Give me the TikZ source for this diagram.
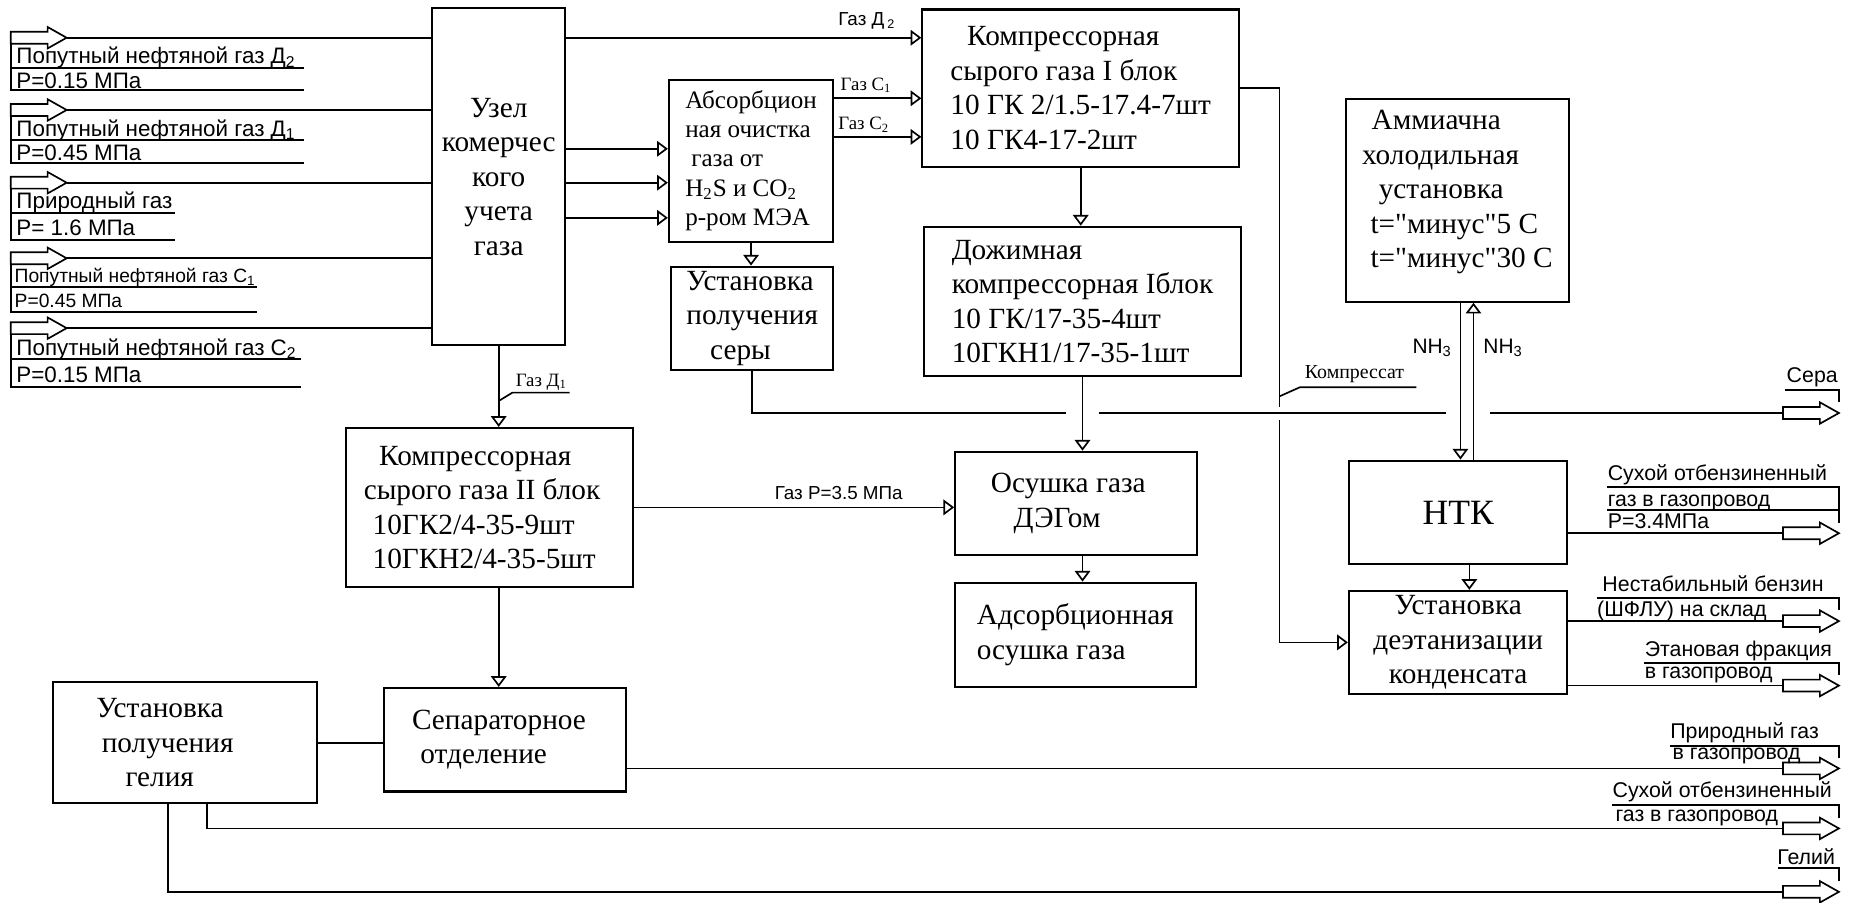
\documentclass[tikz,border=0pt]{standalone}
\usepackage{fontspec}
\setmainfont{Liberation Serif}
\setsansfont{Liberation Sans}
\usepackage{tikz}
\usetikzlibrary{arrows.meta,calc}
\tikzset{
    unit-box/.style = {draw, line width=1pt, rectangle, inner sep=0pt, align=left, font=\fontsize{14}{16.5}\selectfont},
    flow-line/.style = {line width=0.8pt, -{Triangle[open, length=1.8mm, width=2.6mm]}},
    pipe-line/.style = {line width=0.8pt},
    stream-label/.style = {font=\sffamily\fontsize{10.7}{12.5}\selectfont, inner sep=0pt, anchor=base west},
    out-label/.style = {stream-label, font=\sffamily\fontsize{10.2}{12}\selectfont},
    gas-label/.style = {font=\fontsize{9}{10}\selectfont, inner sep=0pt, anchor=base west},
    big-arrow/.pic = {\draw[pipe-line] (0,-5) -- (31,-5) -- (31,-9) -- (47,0) -- (31,9) -- (31,5) -- (0,5) -- cycle;},
}

\begin{document}
\begin{tikzpicture}[x=0.2mm, y=-0.2mm]
\useasboundingbox (0,0) rectangle (1556,757.9);

\node[unit-box, align=center, minimum width=22.4mm, minimum height=56.6mm] (uzel) at (419,148.5) {Узел\\комерчес\\кого\\учета\\газа};
\node[unit-box, minimum width=27.6mm, minimum height=27.2mm, font=\fontsize{12}{13.9}\selectfont] (absorb) at (631,135) {Абсорбцион\\ная очистка\\\hspace*{1mm}газа от\\H\textsubscript{2}S и CO\textsubscript{2}\\р-ром МЭА};
\node[unit-box, minimum width=53.2mm, minimum height=26.4mm] (komp1) at (908,74) {\hspace*{2.8mm}Компрессорная\\сырого газа I блок\\10 ГК 2/1.5-17.4-7шт\\10 ГК4-17-2шт};
\node[unit-box, minimum width=27.2mm, minimum height=17.4mm] (sera) at (632,267.5) {Установка\\получения\\\hspace*{4mm}серы};
\node[unit-box, minimum width=53.4mm, minimum height=25.1mm] (dozhim) at (909.5,253.25) {Дожимная\\компрессорная Iблок\\10 ГК/17-35-4шт\\10ГКН1/17-35-1шт};
\node[unit-box, minimum width=37.4mm, minimum height=34mm] (amm) at (1224.5,168.5) {\hspace*{1.6mm}Аммиачна\\холодильная\\\hspace*{2.8mm}установка\\\hspace*{1.4mm}t=\textquotedbl минус\textquotedbl 5 С\\\hspace*{1.4mm}t=\textquotedbl минус\textquotedbl 30 С\\[-2mm]\mbox{}};
\node[unit-box, minimum width=48.2mm, minimum height=26.7mm] (komp2) at (411,426.3) {\hspace*{2.6mm}Компрессорная\\сырого газа II блок\rule{2.4mm}{0pt}\\\hspace*{1.5mm}10ГК2/4-35-9шт\\\hspace*{1.5mm}10ГКН2/4-35-5шт};
\node[unit-box, minimum width=40.7mm, minimum height=17.3mm] (osushka) at (904.3,422.8) {Осушка газа\rule{2.7mm}{0pt}\\\hspace*{3.8mm}ДЭГом};
\node[unit-box, align=center, minimum width=36.6mm, minimum height=17.4mm, font=\fontsize{17}{20}\selectfont] (ntk) at (1225.2,430.5) {НТК};
\node[unit-box, minimum width=40.6mm, minimum height=17.5mm] (adsorb) at (903.5,533.3) {Адсорбционная\\осушка газа};
\node[unit-box, align=center, minimum width=36.7mm, minimum height=17.3mm] (deethan) at (1225.1,539.7) {Установка\\деэтанизации\\конденсата};
\node[unit-box, minimum width=40.7mm, minimum height=17.4mm] (separ) at (424.25,621.5) {Сепараторное\rule{2mm}{0pt}\\\hspace*{1.4mm}отделение};
\node[unit-box, minimum width=44.3mm, minimum height=20.4mm] (helium) at (155.35,624) {Установка\\\hspace*{0.9mm}получения\rule{6.7mm}{0pt}\\\hspace*{4.9mm}гелия};

\coordinate (in-d2) at (56,31.7);
\coordinate (in-d1) at (56,92.4);
\coordinate (in-pg) at (56,153.5);
\coordinate (in-c1) at (56,217);
\coordinate (in-c2) at (56,275.7);
\pic at ($(in-d2)+(-47,0)$) {big-arrow};
\pic at ($(in-d1)+(-47,0)$) {big-arrow};
\pic at ($(in-pg)+(-47,0)$) {big-arrow};
\pic at ($(in-c1)+(-47,0)$) {big-arrow};
\pic at ($(in-c2)+(-47,0)$) {big-arrow};
\draw[pipe-line] (in-d2) -- (in-d2 -| uzel.west);
\draw[pipe-line] (in-d1) -- (in-d1 -| uzel.west);
\draw[pipe-line] (in-pg) -- (in-pg -| uzel.west);
\draw[pipe-line] (in-c1) -- (in-c1 -| uzel.west);
\draw[pipe-line] (in-c2) -- (in-c2 -| uzel.west);

\draw[pipe-line] (9,36.7) |- (255,75.6);
\draw[pipe-line] (9,57.4) -- (255,57.4);
\node[stream-label] (tag-d2) at (13.5,53.5) {Попутный нефтяной газ Д\textsubscript{2}};
\node[stream-label] (tag-d2p) at (13.5,74) {Р=0.15 МПа};
\draw[pipe-line] (9,97.4) |- (255,137);
\draw[pipe-line] (9,117.6) -- (255,117.6);
\node[stream-label] (tag-d1) at (13.5,114.5) {Попутный нефтяной газ Д\textsubscript{1}};
\node[stream-label] (tag-d1p) at (13.5,135) {Р=0.45 МПа};
\draw[pipe-line] (9,158.5) |- (147,201.7);
\draw[pipe-line] (9,179) -- (147,179);
\node[stream-label] (tag-pg) at (13.5,175.5) {Природный газ};
\node[stream-label] (tag-pgp) at (13.5,198) {Р= 1.6 МПа};
\draw[pipe-line] (9,222) |- (216,262);
\draw[pipe-line] (9,241) -- (216,241);
\node[stream-label, font=\sffamily\fontsize{9.2}{11}\selectfont] (tag-c1) at (12,237.5) {Попутный нефтяной газ С\textsubscript{1}};
\node[stream-label, font=\sffamily\fontsize{9.2}{11}\selectfont] (tag-c1p) at (12,258.5) {Р=0.45 МПа};
\draw[pipe-line] (9,280.7) |- (252.6,325);
\draw[pipe-line] (9,301.7) -- (252.6,301.7);
\node[stream-label] (tag-c2) at (13.5,298.5) {Попутный нефтяной газ С\textsubscript{2}};
\node[stream-label] (tag-c2p) at (13.5,321.5) {Р=0.15 МПа};

\draw[flow-line] (uzel.east |- in-d2) -- (komp1.west |- in-d2);
\node[gas-label, font=\sffamily\fontsize{9}{10}\selectfont] (tag-gd2) at (704,21.8) {Газ Д\,\textsubscript{2}};

\coordinate (ab-in1) at ($(absorb.west)+(0,-10)$);
\coordinate (ab-in2) at ($(absorb.west)+(0,18.5)$);
\coordinate (ab-in3) at ($(absorb.west)+(0,48)$);
\draw[flow-line] (uzel.east |- ab-in1) -- (ab-in1);
\draw[flow-line] (uzel.east |- ab-in2) -- (ab-in2);
\draw[flow-line] (uzel.east |- ab-in3) -- (ab-in3);

\coordinate (ab-out1) at ($(absorb.east)+(0,-52.4)$);
\coordinate (ab-out2) at ($(absorb.east)+(0,-20)$);
\draw[flow-line] (ab-out1) -- (komp1.west |- ab-out1);
\draw[flow-line] (ab-out2) -- (komp1.west |- ab-out2);
\node[gas-label] (tag-gc1) at (706,76.2) {Газ С\textsubscript{1}};
\node[gas-label] (tag-gc2) at (704,109.2) {Газ С\textsubscript{2}};

\draw[flow-line] (absorb.south) -- (absorb.south |- sera.north);
\draw[flow-line] (komp1.south) -- (komp1.south |- dozhim.north);
\draw[flow-line] (dozhim.south) -- (dozhim.south |- osushka.north);
\draw[flow-line] (dozhim.south |- osushka.south) -- (dozhim.south |- adsorb.north);

\coordinate (gd1-tag) at ($(uzel.south)+(0,46)$);
\draw[flow-line] (uzel.south) -- (uzel.south |- komp2.north);
\draw[pipe-line] (gd1-tag) -- ++(11.5,-7) -- ++(48,0);
\node[gas-label] (tag-gd1) at (433,324.4) {Газ Д\textsubscript{1}};

\draw[flow-line] (komp2.east) -- (komp2.east -| osushka.west);
\node[gas-label, font=\sffamily\fontsize{9}{10}\selectfont] (tag-gp) at (650.6,419.6) {Газ Р=3.5 МПа};

\draw[flow-line] (uzel.south |- komp2.south) -- (uzel.south |- separ.north);
\draw[pipe-line] (helium.east) -- (helium.east -| separ.west);

\coordinate (o-sera) at (1498,347);
\coordinate (o-sux1) at (1498,448);
\coordinate (o-benz) at (1498,521.8);
\coordinate (o-eth) at (1498,576);
\coordinate (o-prir) at (1498,645.6);
\coordinate (o-sux2) at (1498,696);
\coordinate (o-gel) at (1498,749.3);
\pic at (o-sera) {big-arrow};
\pic at (o-sux1) {big-arrow};
\pic at (o-benz) {big-arrow};
\pic at (o-eth) {big-arrow};
\pic at (o-prir) {big-arrow};
\pic at (o-sux2) {big-arrow};
\pic at (o-gel) {big-arrow};

\coordinate (sr-g1) at (896,347);
\coordinate (sr-g2) at (923,347);
\coordinate (sr-g3) at (1215,347);
\coordinate (sr-g4) at (1252,347);
\draw[pipe-line] (sera.south) |- (sr-g1);
\draw[pipe-line] (sr-g2) -- (sr-g3);
\draw[pipe-line] (sr-g4) -- (o-sera);

\coordinate (kc-a) at (1075,341.7);
\coordinate (kc-b) at (1075,353);
\coordinate (kc-tag) at (1075,333);
\draw[pipe-line] (komp1.east) -| (kc-a);
\draw[flow-line] (kc-b) |- (deethan.west);
\draw[pipe-line] (kc-tag) -- (1092,325.4) -- (1190,325.4);
\node[gas-label, font=\fontsize{9.5}{11}\selectfont] (tag-kc) at (1096,318) {Компрессат};

\coordinate (nh-down) at ($(ntk.north)+(1.8,0)$);
\coordinate (nh-up) at ($(ntk.north)+(12.8,0)$);
\draw[flow-line] (nh-down |- amm.south) -- (nh-down);
\draw[flow-line] (nh-up) -- (nh-up |- amm.south);
\node[gas-label, font=\sffamily\fontsize{10}{11}\selectfont] (tag-nh1) at (1186.4,296.8) {NH\textsubscript{3}};
\node[gas-label, font=\sffamily\fontsize{10}{11}\selectfont] (tag-nh2) at (1246,296.8) {NH\textsubscript{3}};

\coordinate (nt-dn) at ($(ntk.south)+(9.3,0)$);
\draw[flow-line] (nt-dn) -- (nt-dn |- deethan.north);

\draw[pipe-line] (ntk.east |- o-sux1) -- (o-sux1);
\draw[pipe-line] (deethan.east |- o-benz) -- (o-benz);
\draw[pipe-line] (deethan.east |- o-eth) -- (o-eth);
\draw[pipe-line] (separ.east |- o-prir) -- (o-prir);
\coordinate (he-b1) at ($(helium.south)+(18.35,0)$);
\coordinate (he-b2) at ($(helium.south)+(-14.35,0)$);
\draw[pipe-line] (he-b1) |- (o-sux2);
\draw[pipe-line] (he-b2) |- (o-gel);

\draw[pipe-line] (1500,327.7) -| (1545,338);
\node[out-label] (tag-sera) at (1500.8,321.6) {Сера};
\draw[pipe-line] (1350,409) -| (1545,439);
\draw[pipe-line] (1350,428.6) -- (1545,428.6);
\node[out-label] (tag-sux1) at (1350.5,403.4) {Сухой отбензиненный};
\node[out-label] (tag-sux1b) at (1350.5,425.2) {газ в газопровод};
\node[out-label] (tag-sux1p) at (1350.5,444) {Р=3.4МПа};
\draw[pipe-line] (1341.6,502.6) -| (1545,512.8);
\node[out-label] (tag-benz) at (1346,496.6) {Нестабильный бензин};
\node[out-label] (tag-benzb) at (1341.6,518.2) {(ШФЛУ) на склад};
\draw[pipe-line] (1381.6,557) -| (1545,567);
\node[out-label] (tag-eth) at (1381.6,551.5) {Этановая фракция};
\node[out-label] (tag-ethb) at (1381.6,570) {в газопровод};
\draw[pipe-line] (1403,626.6) -| (1545,636.6);
\node[out-label] (tag-prir) at (1403,620.4) {Природный газ};
\node[out-label] (tag-prirb) at (1405,638) {в газопровод};
\draw[pipe-line] (1354.5,676.5) -| (1545,687);
\node[out-label] (tag-sux2) at (1354.5,670.3) {Сухой отбензиненный};
\node[out-label] (tag-sux2b) at (1357,690.5) {газ в газопровод};
\draw[pipe-line] (1494,729.5) -| (1545,740.3);
\node[out-label] (tag-gel) at (1493,726.3) {Гелий};
\end{tikzpicture}
\end{document}
